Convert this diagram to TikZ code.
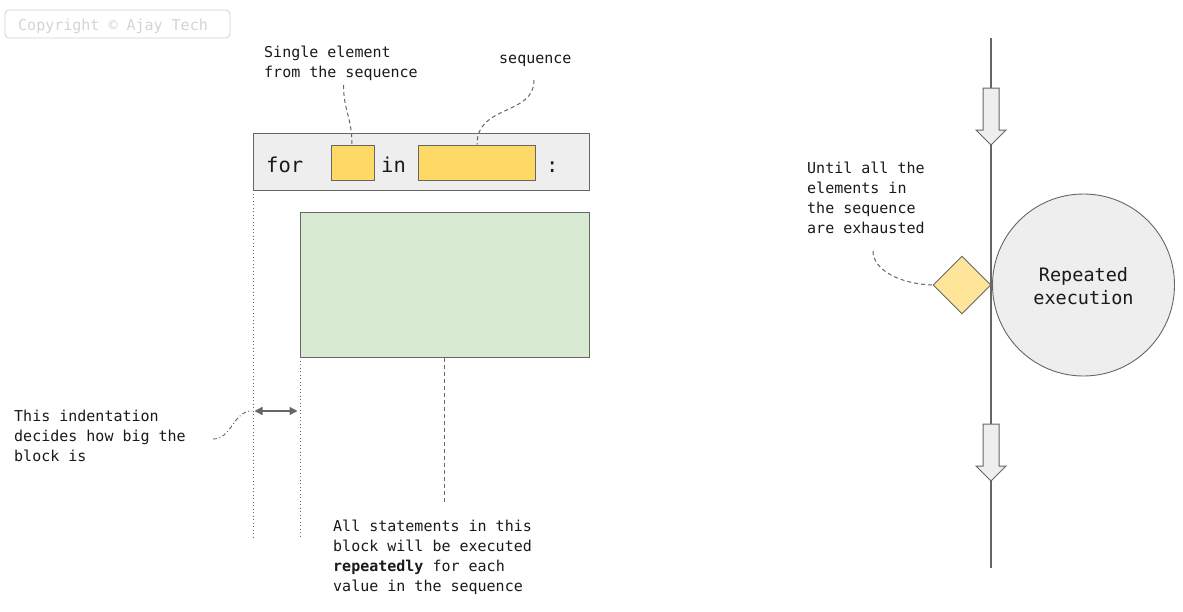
\documentclass[tikz,border=0pt]{standalone}
\usepackage{fontspec}
\newfontfamily\mono{DejaVu Sans Mono}
\usetikzlibrary{arrows.meta,shapes.geometric}
\definecolor{edge}{HTML}{666666}
\definecolor{paper}{HTML}{EEEEEE}
\definecolor{slot}{HTML}{FFD966}
\definecolor{cond}{HTML}{FFE599}
\definecolor{body}{HTML}{D9EAD3}
\definecolor{ink}{HTML}{1A1A1A}
\definecolor{mark}{HTML}{D4D4D4}
\tikzset{
  box/.style={draw=edge, line width=0.9pt, inner sep=0pt},
  note/.style={inner sep=0pt, align=left, text=ink, font=\mono\fontsize{15}{20}\selectfont},
  code/.style={inner sep=0pt, text=ink, font=\mono\fontsize{20.5}{24}\selectfont},
  leader/.style={draw=edge, line width=1pt, dash pattern=on 4pt off 3pt},
  guide/.style={draw=edge, line width=0.9pt, dash pattern=on 1pt off 2.5pt},
  flow/.style={draw=edge, line width=1pt, fill=paper, line join=miter}
}
\begin{document}
\begin{tikzpicture}[x=1pt,y=-1pt]
\useasboundingbox[fill=white] (0,0) rectangle (1183,611);

% copyright tag
\draw[draw=mark, line width=0.9pt, rounded corners=4pt] (5,10) rectangle (230,38);
\node[anchor=base west, inner sep=0pt, text=mark, font=\mono\fontsize{15}{20}\selectfont] (copy) at (18,30) {Copyright © Ajay Tech};

% for-statement header
\node[box, fill=paper, minimum width=336pt, minimum height=57pt, anchor=north west] (head) at (253,133) {};
\node[code, anchor=base west] (kwfor) at (266,172.5) {for};
\node[box, fill=slot, minimum width=42.5pt, minimum height=35pt, anchor=north west] (item) at (331,144.5) {};
\node[code, anchor=base west] (kwin) at (381,172.5) {in};
\node[box, fill=slot, minimum width=116.5pt, minimum height=35pt, anchor=north west] (seq) at (418,144.5) {};
\node[code, anchor=base west] (colon) at (546,172.5) {:};

% indented body block
\node[box, fill=body, minimum width=289pt, minimum height=145pt, anchor=north west] (blk) at (300,212) {};

% indentation guides
\coordinate (g1top) at (253,190);
\coordinate (g1bot) at (253,537);
\coordinate (g2top) at (300,357);
\coordinate (g2bot) at (300,537);
\draw[guide] (g1top) -- (g1bot);
\draw[guide] (g2top) -- (g2bot);
\coordinate (il) at (254.5,411);
\coordinate (ir) at (297.5,411);
\draw[draw=edge, line width=1.4pt, {Triangle[length=8pt,width=8pt]}-{Triangle[length=8pt,width=8pt]}] (il) -- (ir);

% annotations, left part
\node[note, anchor=north west] (tItem) at (264,45.5) {Single element\\from the sequence};
\node[note, anchor=base west] (tSeq) at (499,63) {sequence};
\node[note, anchor=north west] (tInd) at (14,409.5) {This indentation\\decides how big the\\block is};
\node[note, anchor=north west] (tBlk) at (333,519.5) {All statements in this\\block will be executed\\\textbf{repeatedly} for each\\value in the sequence};

\coordinate (a1) at (343.5,85);
\draw[leader] (a1) .. controls (343.5,110) and (352,118) .. (item.north -| 352,0);
\coordinate (a2) at (534,80);
\draw[leader] (a2) .. controls (534,116) and (477,104) .. (477,144.5);
\coordinate (a3) at (213,439);
\draw[draw=edge, line width=0.9pt, dash pattern=on 4pt off 2.5pt on 1pt off 2.5pt] (a3) .. controls (232,439) and (233,411) .. (252,411);
\coordinate (a4) at (444,503);
\draw[leader] (blk.south -| a4) -- (a4);

% loop flow, right part
\coordinate (ftop) at (991,38);
\coordinate (fbot) at (991,568);
\draw[draw=edge, line width=1.1pt] (ftop) -- (fbot);
\draw[flow] (983,88) -- (999,88) -- (999,130) -- (1006,130) -- (991,145) -- (976,130) -- (983,130) -- cycle;
\draw[flow] (983,424) -- (999,424) -- (999,466) -- (1006,466) -- (991,481) -- (976,466) -- (983,466) -- cycle;

\node[draw=edge, line width=0.9pt, fill=paper, circle, minimum size=182pt, inner sep=0pt] (rep) at (1083.5,285) {};
\node[align=center, inner sep=0pt, text=ink, font=\mono\fontsize{18.5}{23}\selectfont, anchor=north] (tRep) at (1083.5,267) {Repeated\\execution};

\node[draw=edge, line width=0.9pt, fill=cond, diamond, minimum width=58pt, minimum height=58pt, inner sep=0pt] (chk) at (962,285) {};

\node[note, anchor=north west] (tUntil) at (807,161.5) {Until all the\\elements in\\the sequence\\are exhausted};
\coordinate (a5) at (873,251);
\draw[leader] (a5) .. controls (873,270) and (900,284) .. (chk.west);
\end{tikzpicture}
\end{document}
